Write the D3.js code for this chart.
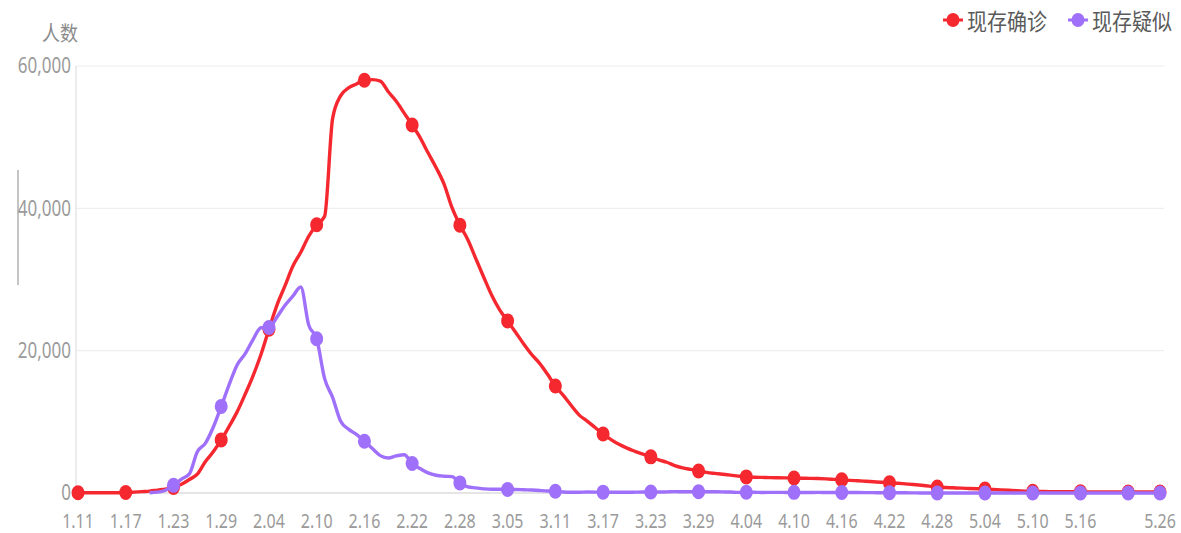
<!DOCTYPE html>
<html>
<head>
<meta charset="utf-8">
<script src="https://cdn.jsdelivr.net/npm/d3@7"></script>
<style>
  html, body { margin: 0; padding: 0; background: #fff; }
  svg { display: block; font-family: "Noto Sans", "Noto Sans CJK SC", sans-serif; }
</style>
</head>
<body>
<svg id="chart" width="1181" height="533"></svg>
<script>
// daily categories 1.11 .. 5.26 (2020)
const startDay = new Date(2020, 0, 11);
const endDay = new Date(2020, 4, 27);
const dates = d3.timeDay.range(startDay, endDay).map(d => `${d.getMonth() + 1}.${String(d.getDate()).padStart(2, '0')}`);

const tickLabels = ['1.11','1.17','1.23','1.29','2.04','2.10','2.16','2.22','2.28','3.05','3.11','3.17',
  '3.23','3.29','4.04','4.10','4.16','4.22','4.28','5.04','5.10','5.16','5.26'];
const symbolDates = ['1.11','1.17','1.23','1.29','2.04','2.10','2.16','2.22','2.28','3.05','3.11','3.17',
  '3.23','3.29','4.04','4.10','4.16','4.22','4.28','5.04','5.10','5.16','5.22','5.26'];
const yTicks = [0, 20000, 40000, 60000];

const seriesNames = ['现存确诊', '现存疑似'];
const seriesColors = ['#f5282f', '#9f70fa'];

// 现存确诊
const confirmed = [
  41, 41, 41, 41, 41, 45, 62, 121, 198, 266,
  411, 536, 780, 1230, 1900, 2650, 4390, 5780, 7460, 9370,
  11400, 13850, 16470, 19460, 23000, 26370, 29060, 31860, 33830, 36080,
  37700, 38900, 52600, 55800, 56920, 57470, 58000, 58080, 57870, 56380,
  55050, 53380, 51710, 49940, 47800, 45750, 43430, 40120, 37640, 35590,
  32940, 30320, 27780, 25720, 24180, 22600, 20980, 19500, 18250, 16710,
  15030, 13720, 12290, 10940, 10110, 9200, 8290, 7510, 6840, 6300,
  5860, 5450, 5080, 4650, 4320, 3850, 3530, 3310, 3100, 2900,
  2760, 2640, 2520, 2380, 2260, 2220, 2190, 2160, 2140, 2120,
  2100, 2080, 2060, 2030, 1980, 1920, 1860, 1780, 1720, 1650,
  1580, 1510, 1450, 1370, 1280, 1190, 1080, 960, 850, 780,
  730, 680, 640, 600, 560, 500, 440, 380, 320, 270,
  230, 210, 200, 190, 180, 175, 170, 165, 160, 160,
  155, 155, 150, 150, 145, 145, 140
];

// 现存疑似 (no data before 1.20)
const suspected = [
  null, null, null, null, null, null, null, null, null, 40,
  120, 393, 1072, 1965, 2684, 5794, 6973, 9239, 12167, 15238,
  17988, 19544, 21558, 23214, 23260, 24702, 26359, 27657, 28942, 23589,
  21675, 16067, 13435, 10109, 8969, 8228, 7264, 6242, 5248, 4922,
  5206, 5365, 4148, 3434, 2824, 2491, 2358, 2308, 1418, 851,
  715, 587, 520, 522, 482, 502, 458, 421, 349, 285,
  253, 147, 115, 113, 134, 128, 119, 105, 104, 106,
  118, 136, 132, 134, 159, 189, 168, 174, 184, 183,
  172, 153, 135, 88, 107, 107, 80, 83, 93, 72,
  88, 72, 72, 82, 74, 70, 64, 66, 64, 57,
  46, 36, 41, 25, 26, 18, 8, 8, 6, 6,
  6, 6, 6, 3, 3, 3, 3, 3, 3, 3,
  3, 3, 3, 3, 3, 3, 3, 3, 3, 3,
  3, 3, 3, 3, 3, 3, 3
];

const svg = d3.select('#chart');
const plotLeft = 77, plotRight = 1161, plotTop = 66, plotBottom = 493;

const x = d3.scalePoint().domain(dates).range([plotLeft + 1, plotRight - 1]);
const y = d3.scaleLinear().domain([0, 60000]).range([plotBottom, plotTop]);

// small grey edge mark at far left
svg.append('line')
  .attr('x1', 18).attr('x2', 18).attr('y1', 170).attr('y2', 285)
  .attr('stroke', '#c4c4c4').attr('stroke-width', 2);

// grid
svg.append('g').selectAll('line')
  .data(yTicks)
  .enter().append('line')
  .attr('x1', plotLeft - 1).attr('x2', plotRight + 3)
  .attr('y1', d => y(d)).attr('y2', d => y(d))
  .attr('stroke', d => d === 0 ? '#dcdcdc' : '#eeeeee')
  .attr('stroke-width', d => d === 0 ? 1.5 : 1.2);

svg.append('line')
  .attr('x1', plotLeft - 1).attr('x2', plotLeft - 1).attr('y1', plotTop).attr('y2', plotBottom)
  .attr('stroke', '#e6e6e6').attr('stroke-width', 1.5);

const stretch = 1.25;

// y labels
svg.append('g').selectAll('text')
  .data(yTicks)
  .enter().append('text')
  .attr('transform', d => `translate(71, ${y(d) - 1}) scale(1, ${stretch})`)
  .attr('text-anchor', 'end')
  .attr('dominant-baseline', 'central')
  .attr('fill', '#9a9a9a')
  .style('font-size', '17px')
  .text(d => d3.format(',')(d));

// x labels
svg.append('g').selectAll('text')
  .data(tickLabels)
  .enter().append('text')
  .attr('transform', d => `translate(${x(d)}, 520) scale(1, ${stretch})`)
  .attr('text-anchor', 'middle')
  .attr('dominant-baseline', 'central')
  .attr('fill', '#9a9a9a')
  .style('font-size', '16px')
  .text(d => d);

// axis name
svg.append('text')
  .attr('transform', `translate(60, 32) scale(1, 1.15)`)
  .attr('text-anchor', 'middle')
  .attr('dominant-baseline', 'central')
  .attr('fill', '#8a8a8a')
  .style('font-family', '"Noto Sans CJK SC", sans-serif')
  .style('font-size', '18px')
  .text('人数');

// lines
const allSeries = [confirmed, suspected];
const line = d3.line()
  .defined(d => d.v !== null)
  .x(d => x(d.date))
  .y(d => y(d.v))
  .curve(d3.curveMonotoneX);

allSeries.forEach((vals, si) => {
  const pts = dates.map((date, i) => ({ date, v: vals[i] }));
  const g = svg.append('g');
  g.append('path')
    .datum(pts)
    .attr('d', line)
    .attr('fill', 'none')
    .attr('stroke', seriesColors[si])
    .attr('stroke-width', 3.4)
    .attr('stroke-linejoin', 'round');

  g.selectAll('ellipse')
    .data(pts.filter(p => p.v !== null && symbolDates.includes(p.date)))
    .enter().append('ellipse')
    .attr('cx', p => x(p.date))
    .attr('cy', p => y(p.v))
    .attr('rx', 6.5)
    .attr('ry', 7.5)
    .attr('fill', seriesColors[si]);
});

// legend
const legendX = [953, 1078];
seriesNames.forEach((name, i) => {
  const lg = svg.append('g').attr('transform', `translate(${legendX[i]}, 20)`);
  lg.append('line')
    .attr('x1', -10).attr('x2', 10).attr('y1', 0).attr('y2', 0)
    .attr('stroke', seriesColors[i]).attr('stroke-width', 3);
  lg.append('ellipse')
    .attr('rx', 6.5).attr('ry', 7)
    .attr('fill', seriesColors[i]);
  lg.append('text')
    .attr('transform', `translate(14, 0) scale(1, 1.12)`)
    .attr('dominant-baseline', 'central')
    .attr('fill', '#5a5a5a')
    .style('font-family', '"Noto Sans CJK SC", sans-serif')
    .style('font-size', '20px')
    .text(name);
});
</script>
</body>
</html>
